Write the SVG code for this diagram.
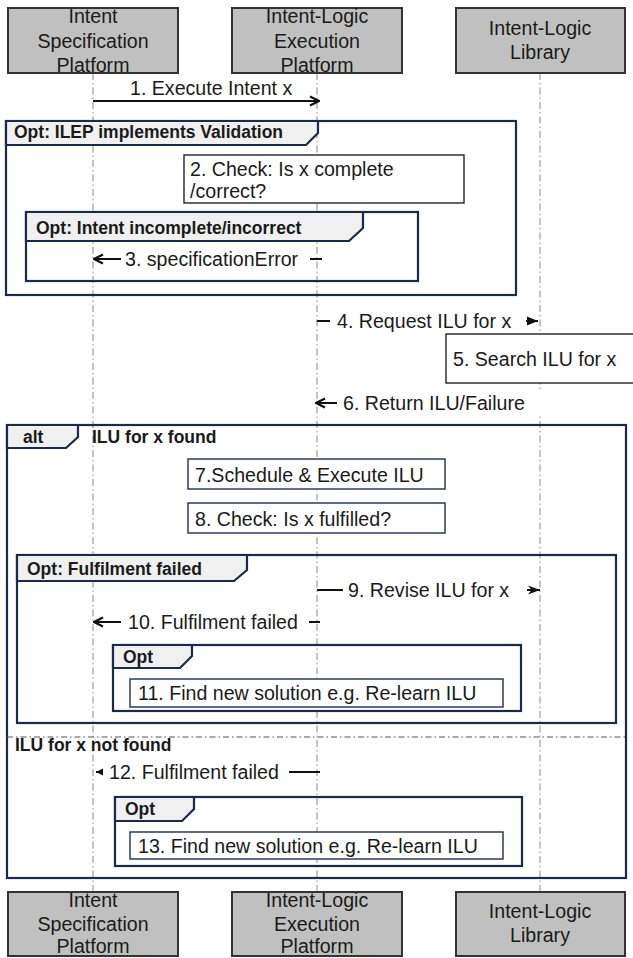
<svg xmlns="http://www.w3.org/2000/svg" width="633" height="958" viewBox="0 0 633 958">
<defs>
<style>
text{font-family:"Liberation Sans",Arial,sans-serif;fill:#1a1a1a}
.t{font-size:19.6px}
.b{font-size:17.5px;font-weight:bold}
.mid{text-anchor:middle}
.actor{fill:#c0c0c0;stroke:#333;stroke-width:2}
.life{stroke:#8a8a8a;stroke-width:1;stroke-dasharray:7 3 1.5 3;fill:none}
.frame{fill:none;stroke:#1b2a4a;stroke-width:2.2}
.tab{fill:#f0f0f0;stroke:#1b2a4a;stroke-width:2.2}
.note{fill:#fff;stroke:#111;stroke-width:1.3}
.act{fill:#fff;stroke:#2e3d5c;stroke-width:1.5}
.msg{stroke:#111;stroke-width:2;fill:none}
.lbl{fill:#fff;stroke:none}
.div{stroke:#555;stroke-width:1.2;stroke-dasharray:6 3 1.5 3;fill:none}
</style>
<marker id="open" viewBox="0 0 12 12" refX="11" refY="6" markerWidth="12" markerHeight="12" orient="auto" markerUnits="userSpaceOnUse">
<path d="M2,1.5 L11,6 L2,10.5" fill="none" stroke="#111" stroke-width="2.2"/>
</marker>
<marker id="tri" viewBox="0 0 11 10" refX="11" refY="5" markerWidth="11" markerHeight="10" orient="auto" markerUnits="userSpaceOnUse">
<path d="M0,0.5 L11,5 L0,9.5 Z" fill="#111"/>
</marker>
<marker id="notch" viewBox="0 0 12 10" refX="12" refY="5" markerWidth="12" markerHeight="10" orient="auto" markerUnits="userSpaceOnUse">
<path d="M0,0.5 L12,5 L0,9.5 L3.5,5 Z" fill="#111"/>
</marker>
<marker id="small" viewBox="0 0 7 8" refX="7" refY="4" markerWidth="7" markerHeight="8" orient="auto" markerUnits="userSpaceOnUse">
<path d="M0,0.5 L7,4 L0,7.5 Z" fill="#111"/>
</marker>
</defs>
<rect width="633" height="958" fill="#fff"/>

<g id="lifelines">
<line class="life" x1="93" y1="73" x2="93" y2="892"/>
<line class="life" x1="317" y1="73" x2="317" y2="892"/>
<line class="life" x1="540" y1="73" x2="540" y2="892"/>
</g>

<g id="frame-validation">
<rect class="frame" x="6" y="121" width="510" height="174"/>
<path class="tab" d="M6,121 L318,121 L318,133 L306,145 L6,145 Z"/>
<text class="b" x="14" y="138">Opt: ILEP implements Validation</text>
</g>

<g id="note-check-complete">
<rect class="note" x="184" y="155" width="280" height="48"/>
<text class="t" x="190" y="176">2. Check: Is x complete</text>
<text class="t" x="190" y="198">/correct?</text>
</g>

<g id="frame-incomplete">
<rect class="frame" x="26" y="212" width="392" height="69"/>
<path class="tab" d="M26,212 L363,212 L363,228 L349,241 L26,241 Z"/>
<text class="b" x="36" y="234">Opt: Intent incomplete/incorrect</text>
</g>

<g id="note-search">
<rect class="note" x="446" y="334" width="200" height="49"/>
<text class="t" x="453" y="366">5. Search ILU for x</text>
</g>

<g id="frame-alt">
<rect class="frame" x="7" y="425" width="619" height="453"/>
<path class="tab" d="M7,425 L78,425 L78,437 L66,448 L7,448 Z"/>
<text class="b" x="23" y="443">alt</text>
<text class="b" x="92" y="443">ILU for x found</text>
<line class="div" x1="7" y1="737" x2="626" y2="737"/>
<text class="b" x="15" y="751">ILU for x not found</text>
</g>

<g id="act-schedule">
<rect class="act" x="188" y="459" width="257" height="30"/>
<text class="t" x="195" y="482">7.Schedule &amp; Execute ILU</text>
</g>

<g id="act-check-fulfilled">
<rect class="act" x="188" y="503" width="257" height="30"/>
<text class="t" x="195" y="526">8. Check: Is x fulfilled?</text>
</g>

<g id="frame-fulfilment">
<rect class="frame" x="17" y="555" width="599" height="168"/>
<path class="tab" d="M17,555 L247,555 L247,570 L234,581 L17,581 Z"/>
<text class="b" x="27" y="575">Opt: Fulfilment failed</text>
</g>

<g id="frame-opt-11">
<rect class="frame" x="113" y="645" width="408" height="66"/>
<path class="tab" d="M113,645 L192,645 L192,656 L180,668 L113,668 Z"/>
<text class="b" x="123" y="663">Opt</text>
</g>

<g id="act-relearn-11">
<rect class="act" x="130" y="679" width="373" height="28"/>
<text class="t" x="138" y="700">11. Find new solution e.g. Re-learn ILU</text>
</g>

<g id="frame-opt-13">
<rect class="frame" x="115" y="797" width="407" height="69"/>
<path class="tab" d="M115,797 L194,797 L194,809 L182,821 L115,821 Z"/>
<text class="b" x="125" y="815">Opt</text>
</g>

<g id="act-relearn-13">
<rect class="act" x="130" y="832" width="373" height="27"/>
<text class="t" x="138" y="853">13. Find new solution e.g. Re-learn ILU</text>
</g>

<g id="actor-isp-top">
<rect class="actor" x="8" y="8" width="170" height="65"/>
<text class="t mid" x="93" y="23">Intent</text>
<text class="t mid" x="93" y="48">Specification</text>
<text class="t mid" x="93" y="72">Platform</text>
</g>
<g id="actor-ilep-top">
<rect class="actor" x="232" y="8" width="170" height="65"/>
<text class="t mid" x="317" y="23">Intent-Logic</text>
<text class="t mid" x="317" y="48">Execution</text>
<text class="t mid" x="317" y="72">Platform</text>
</g>
<g id="actor-ill-top">
<rect class="actor" x="456" y="8" width="169" height="65"/>
<text class="t mid" x="540" y="35">Intent-Logic</text>
<text class="t mid" x="540" y="59">Library</text>
</g>

<g id="actor-isp-bottom">
<rect class="actor" x="8" y="892" width="170" height="64"/>
<text class="t mid" x="93" y="907">Intent</text>
<text class="t mid" x="93" y="931">Specification</text>
<text class="t mid" x="93" y="953">Platform</text>
</g>
<g id="actor-ilep-bottom">
<rect class="actor" x="232" y="892" width="170" height="64"/>
<text class="t mid" x="317" y="907">Intent-Logic</text>
<text class="t mid" x="317" y="931">Execution</text>
<text class="t mid" x="317" y="953">Platform</text>
</g>
<g id="actor-ill-bottom">
<rect class="actor" x="456" y="892" width="169" height="64"/>
<text class="t mid" x="540" y="918">Intent-Logic</text>
<text class="t mid" x="540" y="942">Library</text>
</g>

<g id="connectors">
<g id="m1">
<line class="msg" x1="93" y1="101" x2="319" y2="101" marker-end="url(#open)"/>
<text class="t" x="130" y="95">1. Execute Intent x</text>
</g>
<g id="m3">
<line class="msg" x1="322" y1="259" x2="94" y2="259" marker-end="url(#open)"/>
<rect class="lbl" x="121" y="247" width="189" height="24"/>
<text class="t" x="125" y="266">3. specificationError</text>
</g>
<g id="m4">
<line class="msg" x1="317" y1="321" x2="538" y2="321" marker-end="url(#tri)"/>
<rect class="lbl" x="330" y="309" width="196" height="24"/>
<text class="t" x="337" y="328">4. Request ILU for x</text>
</g>
<g id="m6">
<line class="msg" x1="540" y1="403" x2="316" y2="403" marker-end="url(#open)"/>
<rect class="lbl" x="337" y="391" width="204" height="24"/>
<text class="t" x="343" y="410">6. Return ILU/Failure</text>
</g>
<g id="m9">
<line class="msg" x1="317" y1="590" x2="540" y2="590" marker-end="url(#notch)"/>
<rect class="lbl" x="343" y="578" width="184" height="24"/>
<text class="t" x="348" y="597">9. Revise ILU for x</text>
</g>
<g id="m10">
<line class="msg" x1="320" y1="622" x2="94" y2="622" marker-end="url(#open)"/>
<rect class="lbl" x="121" y="610" width="188" height="24"/>
<text class="t" x="128" y="629">10. Fulfilment failed</text>
</g>
<g id="m12">
<line class="msg" x1="320" y1="772" x2="96" y2="772" marker-end="url(#small)"/>
<rect class="lbl" x="103" y="760" width="186" height="24"/>
<text class="t" x="109" y="779">12. Fulfilment failed</text>
</g>
</g>
</svg>
